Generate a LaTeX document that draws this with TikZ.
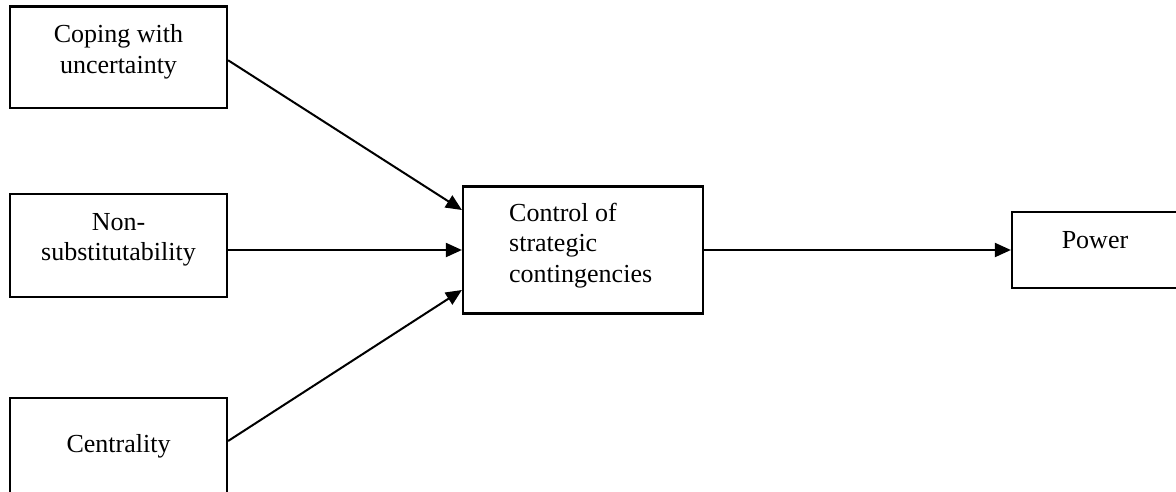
\documentclass[tikz,border=0pt]{standalone}
\usepackage{fontspec}
\setmainfont{Liberation Serif}
\usetikzlibrary{arrows.meta}
\begin{document}
\begin{tikzpicture}[x=1pt,y=-1pt,
  box/.style={draw,line width=2.2pt,rectangle,inner sep=0pt},
  txt/.style={inner sep=0pt,font=\fontsize{26}{30.5}\selectfont},
  conn/.style={line width=2pt,-{Triangle[length=16pt,width=14pt]}}]
\useasboundingbox (0,0) rectangle (1176,491);
\node[box,minimum width=217pt,minimum height=101.5pt] (cope) at (118.5,57.25) {};
\node[box,minimum width=217pt,minimum height=103pt] (ns) at (118.5,245.5) {};
\node[box,minimum width=217pt,minimum height=98pt] (cent) at (118.5,447) {};
\node[box,minimum width=240pt,minimum height=127pt] (ctrl) at (583,250) {};
\node[box,minimum width=170pt,minimum height=76pt] (power) at (1097,250) {};
\node[txt,align=center] (copet) at (118.5,52) {Coping with\\uncertainty};
\node[txt,align=center] (nst) at (118.5,240) {Non-\\substitutability};
\node[txt,align=center] (centt) at (118.5,446.7) {Centrality};
\node[txt,align=left,anchor=west] (ctrlt) at (509,245.2) {Control of\\strategic\\contingencies};
\node[txt] (powert) at (1095,239.7) {Power};
\draw[conn] ([yshift=-3pt]cope.east) -- ([yshift=40pt]ctrl.west);
\draw[conn] (ns.east |- ctrl.west) -- (ctrl.west);
\draw[conn] ([yshift=6pt]cent.east) -- ([yshift=-40pt]ctrl.west);
\draw[conn] (ctrl.east) -- (power.west |- ctrl.east);
\end{tikzpicture}
\end{document}
